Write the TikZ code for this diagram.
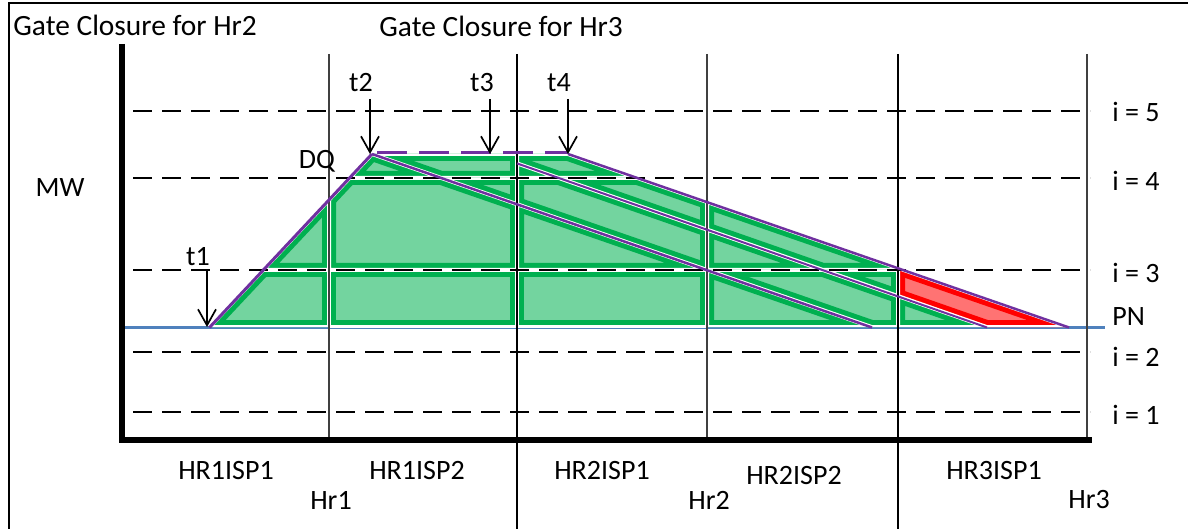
\documentclass[tikz,border=0pt]{standalone}
\usepackage{fontspec}
\setmainfont{Carlito}
\usetikzlibrary{arrows.meta}
\definecolor{pgreen}{HTML}{00B050}
\definecolor{ppurple}{HTML}{7030A0}
\definecolor{pblue}{HTML}{4F81BD}
\definecolor{pred}{HTML}{FF0000}
\colorlet{gfill}{pgreen!55!white}
\colorlet{rfill}{pred!55!white}
\newcommand{\gcell}[1]{\begin{scope}\clip #1; \fill[gfill] #1; \draw[pgreen,line width=7pt,line join=round] #1; \draw[white,line width=2pt] #1; \end{scope}}
\newcommand{\rcell}[1]{\begin{scope}\clip #1; \fill[rfill] #1; \draw[pred,line width=7pt,line join=round] #1; \draw[white,line width=2pt] #1; \end{scope}}
\tikzset{
  lbl/.style={inner sep=0pt, font=\fontsize{14pt}{16pt}\selectfont},
  biglbl/.style={inner sep=0pt, font=\fontsize{14.7pt}{17pt}\selectfont},
  gridh/.style={line width=1.25pt, dash pattern=on 9.5pt off 5pt},
  thinv/.style={line width=0.65pt, black!75},
  thickv/.style={line width=1pt, black},
  dqline/.style={ppurple, line width=1.25pt},
  tarrow/.style={line width=0.85pt, -{Straight Barb[length=8pt,width=9pt]}},
}
\begin{document}
\begin{tikzpicture}[x=0.5pt,y=-0.5pt]
\useasboundingbox (0,0) rectangle (1188,529);
\fill[white] (0,0) rectangle (1188,529);
% ---- PN line ----
\coordinate (pnA) at (122,327.5);
\coordinate (pnB) at (1105,327.5);
\draw[pblue, line width=1.5pt] (pnA) -- (pnB);
% ---- cells ----
\gcell{(209.5,327) -- (263,270) -- (329,270) -- (329,327) -- cycle}
\gcell{(263,270) -- (329,199.8) -- (329,270) -- cycle}
\gcell{(329,270) -- (517,270) -- (517,327) -- (329,327) -- cycle}
\gcell{(329,270) -- (329,199.8) -- (349.5,178) -- (441.3,178) -- (517,204.2) -- (517,270) -- cycle}
\gcell{(349.5,178) -- (372,154) -- (441.3,178) -- cycle}
\gcell{(372,154) -- (517,154) -- (517,178) -- (441.3,178) -- cycle}
\gcell{(441.3,178) -- (517,178) -- (517,204.2) -- cycle}
\gcell{(517,270) -- (707,270) -- (707,327) -- (517,327) -- cycle}
\gcell{(517,204.2) -- (707,270) -- (517,270) -- cycle}
\gcell{(517,178) -- (558.9,178) -- (707,229.6) -- (707,270) -- (517,204.2) -- cycle}
\gcell{(517,163.4) -- (558.9,178) -- (517,178) -- cycle}
\gcell{(517,154) -- (568,154) -- (637.4,178) -- (558.9,178) -- (517,163.4) -- cycle}
\gcell{(558.9,178) -- (637.4,178) -- (707,202) -- (707,229.6) -- cycle}
\gcell{(707,270) -- (871.6,327) -- (707,327) -- cycle}
\gcell{(707,229.6) -- (823,270) -- (707,270) -- cycle}
\gcell{(707,270) -- (823,270) -- (898,296.1) -- (898,327) -- (871.6,327) -- cycle}
\gcell{(707,202) -- (898,268) -- (898,270) -- (823,270) -- (707,229.6) -- cycle}
\gcell{(823,270) -- (898,270) -- (898,296.1) -- cycle}
\gcell{(898,296.1) -- (986.6,327) -- (898,327) -- cycle}
\rcell{(898,268) -- (1068.6,327) -- (986.6,327) -- (898,296.1) -- cycle}
% ---- dashed levels ----
\foreach \yy/\nm in {111/i5,178/i4,270/i3,352/i2,412/i1}{
  \coordinate (\nm a) at (133,\yy);
  \coordinate (\nm b) at (1090,\yy);
  \draw[gridh] (\nm a) -- (\nm b);
}
% ---- verticals ----
\foreach \xx/\nm in {329/v1,707/v3,1087/v5}{
  \coordinate (\nm a) at (\xx,54);
  \coordinate (\nm b) at (\xx,441);
  \draw[thinv] (\nm a) -- (\nm b);
}
\foreach \xx/\nm in {517/v2,898/v4}{
  \coordinate (\nm a) at (\xx,54);
  \coordinate (\nm b) at (\xx,535);
  \draw[thickv] (\nm a) -- (\nm b);
}
% ---- axes ----
\coordinate (ytop) at (122,44);
\coordinate (orig) at (122,440);
\coordinate (xend) at (1092,440);
\draw[line width=3.4pt] (ytop) -- (orig) -- (xend);
% ---- DQ purple ----
\coordinate (pt1) at (209.5,327.5);
\coordinate (pk) at (372,154);
\coordinate (pt3) at (517,163.4);
\coordinate (pt4) at (568,154);
\coordinate (e2) at (872,327.5);
\coordinate (e3) at (987,327.5);
\coordinate (e4) at (1069,327.5);
\coordinate (topA) at (377,153);
\coordinate (topB) at (568,153);
\draw[dqline, line width=1.5pt] (pt1) -- (pk);
\draw[dqline] (pk) -- (e2);
\draw[dqline, line width=1pt] (pt3) -- (e3);
\draw[dqline] (pt4) -- (e4);
\draw[ppurple, line width=1.5pt, dash pattern=on 15pt off 6pt] (topA) -- (topB);
% ---- time arrows ----
\node[lbl] (t1) at (198,257) {t1};
\node[lbl] (t2) at (361,83) {t2};
\node[lbl] (t3) at (482,83) {t3};
\node[lbl] (t4) at (559,83) {t4};
\coordinate (a1s) at (207,271);  \coordinate (a1e) at (207,327);
\coordinate (a2s) at (370,99);   \coordinate (a2e) at (370,154);
\coordinate (a3s) at (490,99);   \coordinate (a3e) at (490,154);
\coordinate (a4s) at (568,99);   \coordinate (a4e) at (568,154);
\draw[tarrow] (a1s) -- (a1e);
\draw[tarrow] (a2s) -- (a2e);
\draw[tarrow] (a3s) -- (a3e);
\draw[tarrow] (a4s) -- (a4e);
% ---- labels ----
\node[biglbl,anchor=base west] (gc2) at (13,36) {Gate Closure for Hr2};
\node[biglbl,anchor=base west] (gc3) at (379,37) {Gate Closure for Hr3};
\node[lbl] (mw) at (60,188) {MW};
\node[lbl] (dq) at (317,161) {DQ};
\node[lbl,anchor=west] (l5) at (1112,112) {i = 5};
\node[lbl,anchor=west] (l4) at (1112,181) {i = 4};
\node[lbl,anchor=west] (l3) at (1112,273) {i = 3};
\node[lbl,anchor=west] (lpn) at (1112,317) {PN};
\node[lbl,anchor=west] (l2) at (1112,357) {i = 2};
\node[lbl,anchor=west] (l1) at (1112,415) {i = 1};
\node[lbl] (s11) at (226,471) {HR1ISP1};
\node[lbl] (s12) at (417,471) {HR1ISP2};
\node[lbl] (s21) at (602,471) {HR2ISP1};
\node[lbl] (s22) at (794,476) {HR2ISP2};
\node[lbl] (s31) at (994,471) {HR3ISP1};
\node[lbl] (h1) at (331,500) {Hr1};
\node[lbl] (h2) at (709,500) {Hr2};
\node[lbl] (h3) at (1089,500) {Hr3};
% ---- frame ----
\coordinate (fr1) at (9,540);
\coordinate (fr2) at (9,3);
\coordinate (fr3) at (1200,3);
\draw[line width=1.3pt] (fr1) -- (fr2) -- (fr3);
\end{tikzpicture}
\end{document}
